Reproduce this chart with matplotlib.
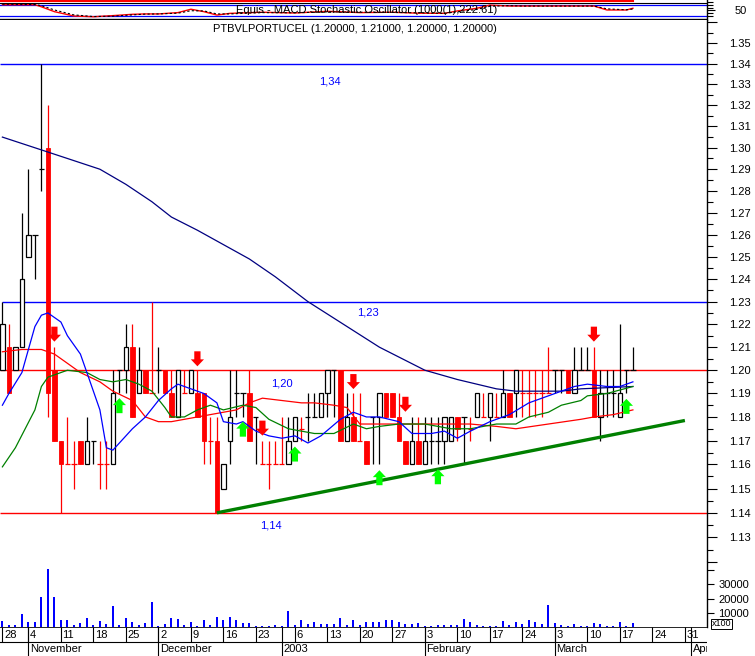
import numpy as np
import matplotlib
matplotlib.use("Agg")
import matplotlib.pyplot as plt
from matplotlib.patches import Rectangle

plt.rcParams['font.family'] = ['Liberation Sans', 'DejaVu Sans']

# ── data (trading-day index 0 = 28 Oct 2002) ───────────────────────
opens = [1.20, 1.21, 1.20, 1.21, 1.25, 1.26, 1.29, 1.30, 1.20, 1.17,
         1.16, 1.16, 1.17, 1.16, 1.17, 1.16, 1.16, 1.16, 1.20, 1.20,
         1.21, 1.19, 1.20, 1.19, 1.20, 1.20, 1.19, 1.18, 1.19, 1.19,
         1.19, 1.19, 1.17, 1.17, 1.15, 1.17, 1.19, 1.19, 1.19, 1.18,
         1.16, 1.16, 1.16, 1.16, 1.16, 1.17, 1.175, 1.18, 1.18, 1.18,
         1.19, 1.20, 1.20, 1.17, 1.18, 1.17, 1.17, 1.18, 1.18, 1.19,
         1.19, 1.18, 1.17, 1.16, 1.17, 1.16, 1.17, 1.17, 1.17, 1.17,
         1.18, 1.18, 1.175, 1.18, 1.18, 1.18, 1.18, 1.18, 1.19, 1.19,
         1.19, 1.19, 1.19, 1.19, 1.19, 1.20, 1.20, 1.20, 1.19, 1.20,
         1.20, 1.20, 1.18, 1.19, 1.19, 1.18, 1.20, 1.20]
highs = [1.23, 1.22, 1.21, 1.27, 1.29, 1.26, 1.34, 1.32, 1.21, 1.17,
         1.18, 1.17, 1.17, 1.18, 1.17, 1.17, 1.17, 1.20, 1.20, 1.22,
         1.22, 1.21, 1.20, 1.23, 1.21, 1.20, 1.20, 1.20, 1.20, 1.20,
         1.20, 1.19, 1.18, 1.18, 1.16, 1.20, 1.20, 1.19, 1.20, 1.18,
         1.17, 1.17, 1.17, 1.18, 1.18, 1.18, 1.18, 1.19, 1.19, 1.19,
         1.20, 1.20, 1.20, 1.19, 1.19, 1.19, 1.17, 1.18, 1.19, 1.19,
         1.19, 1.19, 1.17, 1.18, 1.18, 1.18, 1.18, 1.18, 1.18, 1.18,
         1.18, 1.18, 1.18, 1.19, 1.19, 1.19, 1.19, 1.20, 1.19, 1.20,
         1.20, 1.20, 1.20, 1.20, 1.21, 1.20, 1.20, 1.20, 1.21, 1.21,
         1.21, 1.21, 1.20, 1.20, 1.20, 1.22, 1.20, 1.21]
lows = [1.20, 1.19, 1.20, 1.21, 1.25, 1.24, 1.28, 1.18, 1.17, 1.14,
        1.16, 1.15, 1.16, 1.16, 1.16, 1.15, 1.15, 1.16, 1.19, 1.19,
        1.18, 1.19, 1.19, 1.19, 1.19, 1.19, 1.18, 1.18, 1.19, 1.19,
        1.18, 1.16, 1.16, 1.14, 1.15, 1.16, 1.18, 1.18, 1.17, 1.16,
        1.16, 1.15, 1.16, 1.16, 1.16, 1.17, 1.17, 1.17, 1.18, 1.18,
        1.18, 1.18, 1.17, 1.17, 1.17, 1.17, 1.16, 1.16, 1.16, 1.18,
        1.18, 1.17, 1.16, 1.16, 1.16, 1.16, 1.16, 1.16, 1.16, 1.17,
        1.17, 1.16, 1.17, 1.18, 1.18, 1.17, 1.18, 1.18, 1.18, 1.18,
        1.18, 1.18, 1.18, 1.18, 1.19, 1.19, 1.19, 1.19, 1.19, 1.20,
        1.20, 1.18, 1.17, 1.18, 1.18, 1.18, 1.19, 1.20]
closes = [1.22, 1.19, 1.21, 1.24, 1.26, 1.26, 1.29, 1.19, 1.17, 1.16,
          1.16, 1.16, 1.16, 1.17, 1.17, 1.16, 1.16, 1.19, 1.20, 1.21,
          1.18, 1.20, 1.19, 1.19, 1.20, 1.19, 1.18, 1.20, 1.19, 1.20,
          1.18, 1.17, 1.17, 1.14, 1.16, 1.18, 1.19, 1.19, 1.17, 1.18,
          1.16, 1.16, 1.16, 1.16, 1.17, 1.18, 1.175, 1.18, 1.18, 1.19,
          1.20, 1.20, 1.17, 1.18, 1.17, 1.17, 1.16, 1.18, 1.19, 1.18,
          1.18, 1.17, 1.16, 1.17, 1.16, 1.17, 1.17, 1.17, 1.18, 1.18,
          1.175, 1.18, 1.175, 1.19, 1.18, 1.19, 1.18, 1.19, 1.18, 1.20,
          1.19, 1.19, 1.19, 1.19, 1.19, 1.20, 1.20, 1.19, 1.20, 1.20,
          1.20, 1.18, 1.19, 1.19, 1.19, 1.19, 1.20, 1.20]
volumes = [4000, 1200, 1200, 9400, 3500, 3500, 21000, 41000, 21000, 4700,
           4700, 1600, 3000, 6600, 1600, 4000, 2400, 15000, 1600, 6600,
           3300, 1200, 3000, 17400, 900, 1900, 6600, 5400, 1400, 3300,
           900, 4700, 1200, 6800, 4700, 6800, 5200, 2800, 2600, 900,
           500, 900, 1200, 700, 11300, 1600, 4700, 1900, 3800, 2400,
           2400, 1900, 6600, 1200, 4700, 1600, 3300, 3300, 3300, 5200,
           4700, 3800, 1900, 1900, 2600, 900, 500, 1600, 1400, 1200,
           1400, 5400, 3800, 1200, 700, 700, 500, 4200, 1600, 3300,
           1900, 5200, 3500, 1900, 15300, 2600, 1600, 900, 1900, 900,
           700, 2600, 2100, 700, 700, 3800, 900, 2600]

# moving averages (day, price)
ma_long_days = [0, 6, 10, 15, 19, 23, 26, 30, 38, 42, 47, 58, 65, 70, 76, 79, 86, 89, 97]
ma_long_vals = [1.305, 1.299, 1.295, 1.290, 1.283, 1.275, 1.268, 1.262, 1.249, 1.241,
                1.230, 1.210, 1.200, 1.196, 1.192, 1.191, 1.191, 1.192, 1.193]
ma_blue_days = [0, 1, 3, 4, 5, 6, 7, 9, 10, 12, 13, 15, 16, 17, 18, 20, 22, 24, 26, 27,
                29, 31, 33, 34, 36, 37, 39, 41, 43, 45, 47, 49, 52, 54, 56, 58, 61, 63,
                66, 68, 70, 72, 75, 77, 78, 81, 84, 86, 88, 90, 93, 95, 97]
ma_blue_vals = [1.185, 1.190, 1.199, 1.209, 1.219, 1.224, 1.225, 1.221, 1.215, 1.207,
                1.199, 1.183, 1.167, 1.166, 1.169, 1.175, 1.180, 1.187, 1.192, 1.194,
                1.192, 1.190, 1.186, 1.178, 1.177, 1.178, 1.174, 1.172, 1.171, 1.172,
                1.169, 1.172, 1.179, 1.182, 1.180, 1.180, 1.178, 1.173, 1.173, 1.174,
                1.171, 1.174, 1.178, 1.180, 1.181, 1.186, 1.189, 1.191, 1.193, 1.194,
                1.193, 1.193, 1.195]
ma_red_days = [0, 3, 6, 8, 10, 12, 15, 17, 20, 22, 24, 26, 28, 30, 32, 34, 36, 38, 40,
               43, 46, 48, 51, 53, 55, 58, 62, 67, 72, 76, 79, 84, 89, 91, 94, 97]
ma_red_vals = [1.208, 1.209, 1.209, 1.207, 1.203, 1.199, 1.195, 1.191, 1.187, 1.180,
               1.178, 1.178, 1.179, 1.180, 1.181, 1.182, 1.183, 1.186, 1.188, 1.187,
               1.186, 1.186, 1.185, 1.184, 1.177, 1.177, 1.177, 1.177, 1.177, 1.176,
               1.175, 1.177, 1.179, 1.180, 1.181, 1.183]
ma_green_days = [0, 2, 5, 6, 7, 9, 10, 13, 15, 17, 19, 21, 23, 25, 26, 28, 30, 32, 34,
                 37, 39, 41, 44, 48, 51, 54, 56, 58, 61, 65, 69, 72, 76, 79, 81, 84,
                 86, 89, 90, 93, 97]
ma_green_vals = [1.159, 1.167, 1.183, 1.193, 1.197, 1.199, 1.200, 1.199, 1.196, 1.195,
                 1.196, 1.194, 1.191, 1.184, 1.180, 1.180, 1.183, 1.185, 1.183, 1.185,
                 1.184, 1.179, 1.175, 1.173, 1.173, 1.177, 1.175, 1.176, 1.177, 1.177,
                 1.175, 1.175, 1.177, 1.177, 1.180, 1.182, 1.185, 1.187, 1.189, 1.190,
                 1.193]

trend_days = [33, 105]
trend_vals = [1.14, 1.1785]
levels = [1.34, 1.23, 1.20, 1.14]
level_labels = ["1,34", "1,23", "1,20", "1,14"]

sell_days = [8, 30, 40, 54, 62, 91]
sell_vals = [1.2124, 1.2017, 1.1721, 1.1919, 1.1822, 1.2124]
buy_days = [18, 37, 45, 58, 67, 96]
buy_vals = [1.188, 1.178, 1.1675, 1.1576, 1.158, 1.1877]

osc_days = [0, 5, 6, 8, 11, 14, 17, 20, 22, 24, 27, 29, 31, 33, 35, 40, 45, 50, 55, 60,
            64, 68, 70, 73, 75, 78, 80, 86, 91, 93, 96, 97]
osc_main = [80, 80, 69, 43, 20, 16, 22, 29, 31, 31, 38, 56, 43, 25, 34, 40, 36, 45, 38, 40,
            35, 34, 47, 61, 78, 73, 73, 73, 73, 52, 52, 61]
osc_signal = [83, 81, 75, 52, 26, 17, 19, 26, 30, 31, 35, 48, 47, 31, 31, 38, 37, 42, 40, 39,
              37, 34, 42, 55, 72, 75, 73, 73, 73, 58, 53, 57]
osc_title = "Equis - MACD Stochastic Oscillator (1000(1),222.61)"

day_ticks = [0, 4, 9, 14, 19, 24, 29, 34, 39, 45, 50, 55, 60, 65, 70, 75, 80, 85, 90, 95, 100, 105]
day_labels = ["28", "4", "11", "18", "25", "2", "9", "16", "23", "6", "13", "20", "27",
              "3", "10", "17", "24", "3", "10", "17", "24", "31"]
month_ticks = [4, 24, 43, 65, 85, 106]
month_labels = ["November", "December", "2003", "February", "March", "Apr"]

title = "PTBVLPORTUCEL (1.20000, 1.21000, 1.20000, 1.20000)"

# ── layout (pixels of a 755x656 canvas) ─────────────────────────────
W, H, R = 755, 656, 707
RED, BLK, BLUE, NAVY, GRN = "#ff0000", "#000000", "#0000ff", "#000080", "#008000"
DAY_PX, DAY0 = 6.5, 2.4
X0, X1 = -DAY0 / DAY_PX, (R - DAY0) / DAY_PX
LOG_PX = 2808.7


def box(top, bottom):
    return [0, 1 - bottom / H, R / W, (bottom - top) / H]


def price_at(y):
    return 1.14 * np.exp((518 - y) / LOG_PX)


fig = plt.figure(figsize=(W / 100, H / 100), dpi=100, facecolor="white")
ax_o = fig.add_axes(box(0, 19.5))
ax_p = fig.add_axes(box(19.5, 562))
ax_v = fig.add_axes(box(562, 627))
ax_d = fig.add_axes(box(627, 656))

for ax in (ax_o, ax_p, ax_v, ax_d):
    ax.set_xlim(X0, X1)
    for s in ("left", "top", "bottom"):
        ax.spines[s].set_visible(False)
    ax.spines["right"].set_linewidth(1.0)
    ax.xaxis.set_visible(False)
    ax.yaxis.tick_right()
    ax.tick_params(axis="y", which="both", colors=BLK, labelsize=8, width=0.8)
ax_d.spines["right"].set_visible(False)
ax_d.set_yticks([])

# ── oscillator strip ──
ax_o.set_ylim(1.4, 105)
ax_o.axhline(99.7, xmax=(97 - X0) / (X1 - X0), color=RED, lw=1.5)
ax_o.axhline(87.4, color=BLK, lw=0.8)
ax_o.axhline(80, color=BLUE, lw=0.9)
ax_o.axhline(20, color=BLUE, lw=0.9)
ax_o.axhline(2.0, color=BLK, lw=1.0)
ax_o.plot(osc_days, osc_main, color=RED, lw=1.0)
ax_o.plot(osc_days, osc_signal, color=BLK, lw=0.8, dashes=(2, 2))
ax_o.text(36, 50, osc_title, fontsize=8, va="center", ha="left", color=BLK)
ax_o.set_yticks([50])
ax_o.set_yticklabels(["50"])
ax_o.set_yticks([20, 35, 65, 80, 95], minor=True)
ax_o.tick_params(axis="y", which="major", length=6, pad=14)
ax_o.tick_params(axis="y", which="minor", length=4)

# ── price panel ──
ax_p.set_yscale("log")
ax_p.set_ylim(price_at(562), price_at(19.5))
major = np.round(np.arange(1.12, 1.365, 0.01), 2)
ax_p.set_yticks(major)
ax_p.set_yticklabels([f"{v:.2f}" if 1.125 < v < 1.355 else "" for v in major])
ax_p.set_yticks(np.round(np.arange(1.125, 1.36, 0.01), 3), minor=True)
ax_p.yaxis.set_minor_formatter(matplotlib.ticker.NullFormatter())
ax_p.tick_params(axis="y", which="major", length=7, pad=9)
ax_p.tick_params(axis="y", which="minor", length=4)

level_cols = [BLUE, BLUE, RED, RED]
level_start = [X0, 0, X0, X0]
label_pos = [(50.4, -18), (56.3, -11), (43, -13), (41.3, -13)]
for lv, col, xs, lab, (lx, dy) in zip(levels, level_cols, level_start, level_labels, label_pos):
    ax_p.hlines(lv, xs, X1, color=col, lw=1.0, zorder=1)
    ax_p.annotate(lab, (lx, lv), xytext=(0, dy), textcoords="offset pixels",
                  color=BLUE, fontsize=8, ha="center", va="center")

ax_p.plot(trend_days, trend_vals, color=GRN, lw=2.4, zorder=4, solid_capstyle="butt")

# candles
bw = 0.68
prev_col = BLK
for i, (o, h, l, c) in enumerate(zip(opens, highs, lows, closes)):
    if i > 0 and c > closes[i - 1]:
        col = BLK
    elif i > 0 and c < closes[i - 1]:
        col = RED
    else:
        col = prev_col
    prev_col = col
    ax_p.vlines(i, l, h, color=col, lw=0.9, zorder=2)
    if c > o:
        ax_p.add_patch(Rectangle((i - bw / 2, o), bw, c - o, fc="white", ec=col,
                                 lw=0.9, zorder=3))
    elif c < o:
        ax_p.add_patch(Rectangle((i - bw / 2, c), bw, o - c, fc=col, ec=col,
                                 lw=0.6, zorder=3))
    else:
        ax_p.hlines(o, i - 0.4, i + 0.4, color=col, lw=0.9, zorder=3)

ax_p.plot(ma_long_days, ma_long_vals, color=NAVY, lw=0.9, zorder=4)
ax_p.plot(ma_red_days, ma_red_vals, color=RED, lw=0.9, zorder=4)
ax_p.plot(ma_green_days, ma_green_vals, color=GRN, lw=0.9, zorder=4)
ax_p.plot(ma_blue_days, ma_blue_vals, color=BLUE, lw=0.9, zorder=4)

arrow_kw = dict(arrowstyle="simple,head_length=0.5,head_width=0.95,tail_width=0.45",
                shrinkA=0, shrinkB=0, mutation_scale=10, lw=0)
for d, v in zip(sell_days, sell_vals):
    ax_p.annotate("", xy=(d, v), xytext=(0, 15), textcoords="offset pixels",
                  arrowprops=dict(fc=RED, ec=RED, **arrow_kw), zorder=6)
for d, v in zip(buy_days, buy_vals):
    ax_p.annotate("", xy=(d, v), xytext=(0, -15), textcoords="offset pixels",
                  arrowprops=dict(fc="#00ff00", ec="#00ff00", **arrow_kw), zorder=6)

ax_p.text(355 / R, 1 - (29 - 19.5) / (562 - 19.5), title, transform=ax_p.transAxes,
          ha="center", va="center", fontsize=8, color=BLK)

# ── volume ──
ax_v.bar(range(len(volumes)), volumes, width=0.32, color=BLUE, linewidth=0)
ax_v.set_ylim(0, 45800)
ax_v.set_yticks([10000, 20000, 30000, 40000])
ax_v.set_yticklabels(["10000", "20000", "30000", ""])
ax_v.tick_params(axis="y", length=5, pad=3)
fig.text(712 / W, 1 - 624 / H, "x100", fontsize=6.5, va="center", ha="left",
         bbox=dict(boxstyle="square,pad=0.08", fc="white", ec=BLK, lw=0.7), zorder=10)

# ── date strip ──
ax_d.set_ylim(29, 0)
ax_d.axhline(0.3, color=BLK, lw=1.2)
ax_d.axhline(15, color=BLK, lw=0.8)
ax_d.vlines(day_ticks, 0, 15, color=BLK, lw=0.8)
ax_d.vlines(month_ticks, 0, 29, color=BLK, lw=0.8)
for d, lab in zip(day_ticks, day_labels):
    ax_d.text(d + 0.25, 8, lab, fontsize=8, va="center", ha="left", clip_on=True)
for d, lab in zip(month_ticks, month_labels):
    ax_d.text(d + 0.25, 22.5, lab, fontsize=8, va="center", ha="left", clip_on=True)

fig.savefig("out.png", dpi=100, facecolor="white")
